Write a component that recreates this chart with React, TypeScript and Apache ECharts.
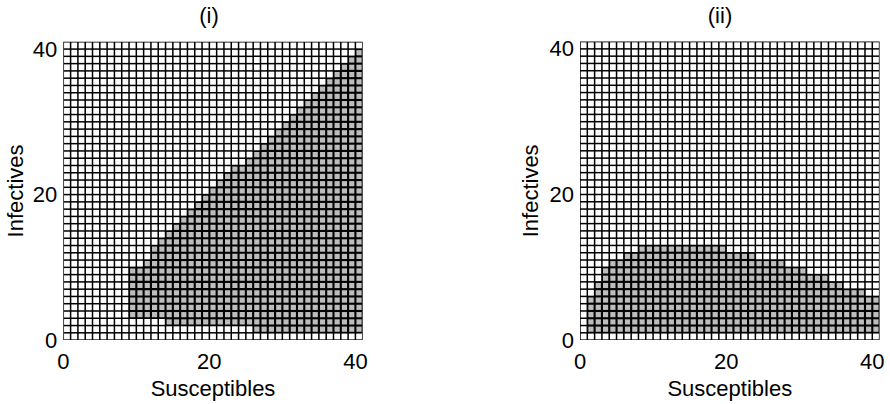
import React, { useEffect, useRef } from "react";
import * as echarts from "echarts";

const AXIS_MAX = 41;
const TICK_STEP = 20;
const susceptibles = [
  0, 1, 2, 3, 4, 5, 6, 7, 8, 9, 10, 11, 12, 13, 14, 15, 16, 17, 18, 19, 20,
  21, 22, 23, 24, 25, 26, 27, 28, 29, 30, 31, 32, 33, 34, 35, 36, 37, 38, 39, 40,
];
const infectives = susceptibles;

// Panel (i): for each susceptible count, lowest / highest shaded infective count
const panel1Low: (number | null)[] = [
  null, null, null, null, null, null, null, null, null,
  3, 3, 3, 3, 3,
  2, 2, 2, 2, 2, 2, 2, 2, 2, 2, 2, 2,
  1, 1, 1, 1, 1, 1, 1, 1, 1, 1, 1, 1, 1, 1, 1,
];
const panel1High: (number | null)[] = [
  null, null, null, null, null, null, null, null, null,
  9, 9, 10, 12, 13, 14, 15, 16, 17, 18, 19, 20, 21, 22, 23,
  23, 24,
  25, 26, 27, 28, 29, 30, 31, 32, 33, 34, 35, 36, 37, 38, 39,
];

// Panel (ii)
const panel2Low: (number | null)[] = [
  null,
  1, 1, 1, 1, 1, 1, 1, 1, 1, 1, 1, 1, 1, 1, 1, 1, 1, 1, 1, 1,
  1, 1, 1, 1, 1, 1, 1, 1, 1, 1, 1, 1, 1, 1, 1, 1, 1, 1, 1, 1,
];
const panel2High: (number | null)[] = [
  null,
  5, 7, 9, 10, 10, 11, 11,
  12, 12, 12, 12, 12, 12, 12, 12, 12, 12, 12, 12,
  11, 11, 11, 11,
  10, 10, 10, 10,
  9, 9, 9,
  8, 8, 8,
  7, 7,
  6, 6, 6,
  5, 5,
];

const titles = ["(i)", "(ii)"];
const xName = "Susceptibles";
const yName = "Infectives";

const FONT = "'Liberation Sans', Arial, Helvetica, sans-serif";
const GREY = "#bdbdbd";

function buildCells(low: (number | null)[], high: (number | null)[]) {
  const out: number[][] = [];
  susceptibles.forEach((s, si) => {
    infectives.forEach((i) => {
      const lo = low[si];
      const hi = high[si];
      const shaded = lo != null && hi != null && i >= lo && i <= hi ? 1 : 0;
      out.push([s, i, shaded]);
    });
  });
  return out;
}

const renderCell = (params: any, api: any) => {
  const s = api.value(0);
  const i = api.value(1);
  const v = api.value(2);
  const p0 = api.coord([s, i]);
  const p1 = api.coord([s + 1, i + 1]);
  const inset = v ? 1.05 : 0.75;
  return {
    type: "rect",
    shape: {
      x: p0[0] + inset,
      y: p1[1] + inset,
      width: p1[0] - p0[0] - 2 * inset,
      height: p0[1] - p1[1] - 2 * inset,
    },
    style: { fill: v ? GREY : "#ffffff", lineWidth: 0 },
  };
};

export default function App() {
  const ref = useRef<HTMLDivElement>(null);

  useEffect(() => {
    if (!ref.current) return;
    const chart = echarts.init(ref.current, undefined, { renderer: "svg" });

    const grids = [
      { left: 63.3, top: 41.8, width: 299.4, height: 299.4 },
      { left: 580, top: 41.6, width: 299.6, height: 299.6 },
    ].map((g) => ({ ...g, show: true, backgroundColor: "#000000", borderWidth: 0 }));
    const yNameGaps = [37, 39];

    const labelStyle = { fontSize: 22, color: "#000", fontFamily: FONT };

    const xAxes = grids.map((_, gi) => ({
      gridIndex: gi,
      type: "value",
      min: 0,
      max: AXIS_MAX,
      interval: TICK_STEP,
      axisLine: { show: false },
      axisTick: { show: false },
      splitLine: { show: false },
      axisLabel: {
        ...labelStyle,
        margin: 10,
        showMaxLabel: false,
        formatter: (v: number) => (v % TICK_STEP === 0 ? String(v) : ""),
      },
      name: xName,
      nameLocation: "middle",
      nameGap: 29,
      nameTextStyle: labelStyle,
    }));

    const yAxes = grids.map((_, gi) => ({
      gridIndex: gi,
      type: "value",
      min: 0,
      max: AXIS_MAX,
      interval: TICK_STEP,
      axisLine: { show: false },
      axisTick: { show: false },
      splitLine: { show: false },
      axisLabel: {
        ...labelStyle,
        margin: 6,
        showMaxLabel: false,
        formatter: (v: number) => (v % TICK_STEP === 0 ? String(v) : ""),
      },
      name: yName,
      nameLocation: "middle",
      nameRotate: 90,
      nameGap: yNameGaps[gi],
      nameTextStyle: labelStyle,
    }));

    const panels = [
      buildCells(panel1Low, panel1High),
      buildCells(panel2Low, panel2High),
    ];

    chart.setOption({
      animation: false,
      backgroundColor: "#ffffff",
      grid: grids,
      xAxis: xAxes,
      yAxis: yAxes,
      graphic: [
        {
          type: "text",
          x: 209,
          y: 4,
          style: { text: titles[0], fontSize: 22, fontFamily: FONT, fill: "#000", align: "center", verticalAlign: "top" },
        },
        {
          type: "text",
          x: 720,
          y: 4,
          style: { text: titles[1], fontSize: 22, fontFamily: FONT, fill: "#000", align: "center", verticalAlign: "top" },
        },
      ],
      series: panels.map((data, gi) => ({
        type: "custom",
        xAxisIndex: gi,
        yAxisIndex: gi,
        renderItem: renderCell,
        data,
        silent: true,
      })),
    });

    return () => chart.dispose();
  }, []);

  return (
    <div ref={ref} style={{ position: "fixed", left: 0, top: 0, width: 890, height: 404 }} />
  );
}
